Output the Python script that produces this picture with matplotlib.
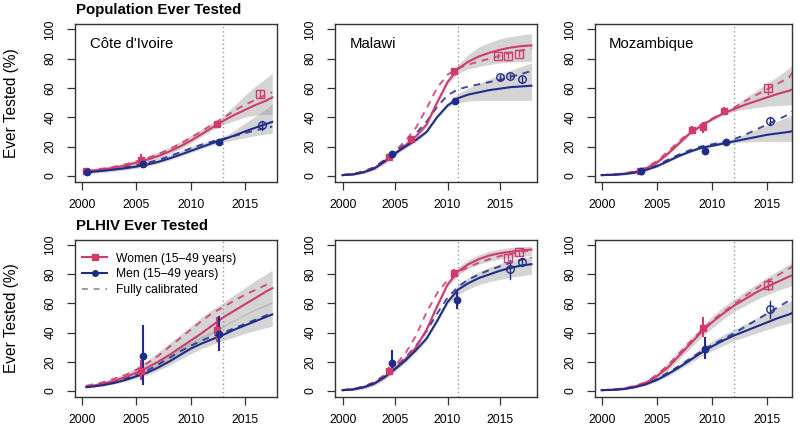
import matplotlib
matplotlib.use('Agg')
import matplotlib.pyplot as plt
from matplotlib.lines import Line2D

plt.rcParams['font.family'] = ['Liberation Sans', 'DejaVu Sans']

# ---------------- data ----------------
YEARS_CI = [2000.4, 2001, 2002, 2003, 2004, 2005, 2006, 2007, 2008, 2009, 2010,
            2011, 2012, 2013, 2014, 2015, 2016, 2017, 2017.5]
YEARS_MW = [2000, 2001, 2002, 2003, 2004, 2005, 2006, 2007, 2008, 2009, 2010,
            2011, 2012, 2013, 2014, 2015, 2016, 2017, 2018]
YEARS_MZ = [2000, 2001, 2002, 2003, 2004, 2005, 2006, 2007, 2008, 2009, 2010,
            2011, 2012, 2013, 2014, 2015, 2016, 2017, 2017.3]

CUTOFF_CI = 2013
CUTOFF_MW = 2011
CUTOFF_MZ = 2012

# Côte d'Ivoire, population
CI_POP_W = [2.8, 3.5, 4.5, 5.5, 7, 9, 11, 13.5, 16.5, 20, 24, 28.5, 33, 37.5, 41.5, 45, 48.5, 51.5, 53.5]
CI_POP_W_FULL = [3.2, 4, 5, 6.2, 7.8, 9.8, 12, 14.8, 18, 21.8, 26, 30.5, 35, 39.5, 44.5, 48.5, 52, 55.5, 57]
CI_POP_W_LO = [1.8, 2.5, 3.4, 4.3, 5.6, 7.4, 9.3, 11.8, 14.8, 18.3, 22.3, 26.8, 31.3, 35, 37.5, 40, 41.5, 42, 42]
CI_POP_W_HI = [4.2, 5, 6.1, 7.4, 9, 11.2, 13.5, 16.3, 19.5, 23.3, 27.5, 32, 36.5, 41, 48, 55, 61.5, 67, 70]
CI_POP_M = [2.2, 2.8, 3.5, 4.3, 5.2, 6.3, 7.7, 9.5, 11.8, 14.3, 17, 19.7, 22.3, 24.8, 27.5, 30.3, 33, 35.5, 36.8]
CI_POP_M_FULL = [2.5, 3.1, 3.9, 4.8, 5.9, 7.2, 8.8, 10.8, 13.3, 16, 18.8, 21.3, 23.5, 25.3, 27.2, 29.2, 31.1, 32.8, 33.6]
CI_POP_M_LO = [1.3, 1.8, 2.4, 3.1, 4, 5.1, 6.5, 8.3, 10.6, 13.1, 15.8, 18.5, 21.1, 23, 24.5, 26, 27.5, 28.5, 29]
CI_POP_M_HI = [3.5, 4.1, 4.9, 5.8, 6.9, 8.2, 9.8, 11.8, 14.3, 17, 19.8, 22.3, 24.5, 26.5, 31, 36, 41, 46, 49]
CI_POP_W_PX = [2000.4, 2005.4, 2012.45]
CI_POP_W_PY = [3.4, 11.0, 35.3]
CI_POP_W_PLO = [2.5, 7.5, 33.5]
CI_POP_W_PHI = [4.3, 14.5, 37.0]
CI_POP_W_OX = [2016.4]
CI_POP_W_OY = [55.7]
CI_POP_W_OLO = [53.0]
CI_POP_W_OHI = [58.5]
CI_POP_M_PX = [2000.5, 2005.6, 2012.6]
CI_POP_M_PY = [2.5, 8.0, 23.2]
CI_POP_M_PLO = [2.0, 7.0, 22.0]
CI_POP_M_PHI = [3.0, 9.0, 24.5]
CI_POP_M_OX = [2016.6]
CI_POP_M_OY = [34.5]
CI_POP_M_OLO = [31.5]
CI_POP_M_OHI = [37.5]

# Malawi, population
MW_POP_W = [0.5, 1, 2.5, 5, 9.5, 15, 21, 27, 35, 50, 64, 73, 78, 81.5, 84, 86, 87.5, 88.5, 89]
MW_POP_W_FULL = [0.6, 1.2, 3, 6, 11, 17, 24, 33, 46, 60, 69, 73.5, 76, 78, 80, 82, 84, 85.5, 87]
MW_POP_W_LO = [0.2, 0.5, 1.7, 4, 8.3, 13.7, 19.7, 25.5, 33.3, 48.3, 62.3, 70, 73, 74.5, 76, 77, 77.5, 78, 78]
MW_POP_W_HI = [0.8, 1.5, 3.3, 6, 10.7, 16.3, 22.3, 28.5, 36.7, 51.7, 65.7, 76, 83, 88, 91, 93.5, 95, 96, 97]
MW_POP_M = [0.5, 1, 2.5, 5, 10, 15.5, 20, 24.5, 30, 40, 48, 53, 55.5, 57, 58.5, 59.5, 60.5, 61, 61.5]
MW_POP_M_FULL = [0.6, 1.2, 3, 5.5, 10.5, 16, 22, 29, 37, 47, 55, 59, 61, 62.5, 64, 65.5, 67.5, 69.5, 71.5]
MW_POP_M_LO = [0.2, 0.5, 1.6, 4, 8.8, 14.3, 18.8, 23.3, 28.8, 38.8, 46.8, 50, 51, 51.5, 51.5, 51.5, 51.5, 51.5, 51.5]
MW_POP_M_HI = [0.8, 1.5, 3.4, 6, 11.2, 16.7, 21.2, 25.7, 31.2, 41.2, 49.2, 56, 60, 63, 66, 69, 72, 74.5, 77]
MW_POP_W_PX = [2004.45, 2006.5, 2010.6]
MW_POP_W_PY = [13.0, 24.8, 71.5]
MW_POP_W_PLO = [11.5, 23.3, 70.0]
MW_POP_W_PHI = [14.5, 26.3, 73.0]
MW_POP_W_OX = [2014.8, 2015.8, 2016.8]
MW_POP_W_OY = [81.8, 81.8, 83.0]
MW_POP_W_OLO = [80.3, 80.3, 81.5]
MW_POP_W_OHI = [83.3, 83.3, 84.5]
MW_POP_M_PX = [2004.7, 2010.75]
MW_POP_M_PY = [14.8, 51.0]
MW_POP_M_PLO = [13.3, 49.5]
MW_POP_M_PHI = [16.3, 52.5]
MW_POP_M_OX = [2015.0, 2016.0, 2017.06]
MW_POP_M_OY = [67.2, 68.0, 65.8]
MW_POP_M_OLO = [65.7, 66.5, 64.3]
MW_POP_M_OHI = [68.7, 69.5, 67.3]

# Mozambique, population
MZ_POP_W = [0.5, 0.8, 1.5, 2.5, 5, 9, 15, 22, 29, 34, 38.5, 42.5, 45.5, 48.5, 51, 53.5, 56, 58, 59]
MZ_POP_W_FULL = [0.5, 0.9, 1.7, 3, 5.5, 10, 16.5, 23.5, 30, 35, 39, 43, 46.5, 51, 55, 59, 63, 67, 70.5]
MZ_POP_W_LO = [0.2, 0.4, 0.8, 1.6, 4, 8, 14, 21, 28, 33, 37.5, 41.5, 44, 45.5, 46.5, 47.5, 48, 48.3, 48.3]
MZ_POP_W_HI = [0.8, 1.2, 2.2, 3.8, 6.5, 11, 17.5, 24.5, 31, 36, 40, 44, 47.5, 53, 58, 63, 68, 73.5, 75.5]
MZ_POP_M = [0.5, 0.7, 1.2, 2.2, 4, 6.5, 10, 13.5, 16.5, 19, 20.5, 22, 23.5, 25, 26.5, 28, 29, 30, 30.5]
MZ_POP_M_FULL = [0.5, 0.8, 1.4, 2.5, 4.5, 7, 11, 14.5, 17.5, 20, 21.5, 23, 25, 28, 31.5, 35, 38.5, 42, 44]
MZ_POP_M_LO = [0.2, 0.3, 0.7, 1.5, 3.2, 5.7, 9.2, 12.7, 15.7, 18.2, 19.7, 21.2, 22.5, 23, 23.3, 23.5, 23.5, 23.5, 23.5]
MZ_POP_M_HI = [0.8, 1.1, 1.8, 3, 5.1, 7.8, 11.8, 15.3, 18.3, 20.8, 22.3, 23.8, 25.5, 28.5, 31.5, 34.5, 37.5, 40.5, 42]
MZ_POP_W_PX = [2003.5, 2008.2, 2009.2, 2011.1]
MZ_POP_W_PY = [3.4, 31.2, 33.0, 44.4]
MZ_POP_W_PLO = [2.8, 29.5, 30.0, 42.5]
MZ_POP_W_PHI = [4.0, 33.0, 36.0, 46.3]
MZ_POP_W_OX = [2015.1]
MZ_POP_W_OY = [59.7]
MZ_POP_W_OLO = [56.0]
MZ_POP_W_OHI = [63.0]
MZ_POP_M_PX = [2003.6, 2009.4, 2011.3]
MZ_POP_M_PY = [3.6, 17.0, 22.8]
MZ_POP_M_PLO = [3.0, 15.0, 21.0]
MZ_POP_M_PHI = [4.3, 19.0, 24.6]
MZ_POP_M_OX = [2015.3]
MZ_POP_M_OY = [37.6]
MZ_POP_M_OLO = [35.0]
MZ_POP_M_OHI = [40.0]

# Côte d'Ivoire, PLHIV
CI_HIV_W = [3, 3.5, 5, 7, 9.5, 12.5, 16, 20, 24.5, 29.5, 34.5, 39.5, 45, 50.5, 55, 59.5, 64, 68.5, 70.5]
CI_HIV_W_FULL = [3.5, 4.5, 6, 8.5, 11, 14.5, 19, 24, 30, 36, 42, 48, 53.5, 57.5, 62, 66, 69.5, 73, 74.5]
CI_HIV_W_LO = [2.5, 3, 4.3, 6, 8, 10.5, 13.5, 17, 21, 25.5, 30, 34.5, 39, 44, 48, 52, 55.5, 58.5, 60]
CI_HIV_W_HI = [4, 5, 6.8, 9.3, 12, 16, 21, 26.5, 32.5, 38.5, 44.5, 50.5, 56, 60.5, 66, 71, 76, 80.5, 83]
CI_HIV_M = [2.5, 3, 4, 5.5, 7.5, 10, 12.5, 16, 20, 24.5, 29, 32.5, 35.5, 38.5, 42, 45, 48, 51, 52.5]
CI_HIV_M_FULL = [3, 3.5, 5, 6.5, 8.5, 11, 14, 18, 22.5, 27, 31, 34.5, 37.5, 40, 43, 46, 49, 52, 53.5]
CI_HIV_M_LO = [2.2, 2.6, 3.5, 4.8, 6.5, 8.7, 11, 14, 17.5, 21.5, 25.5, 29, 32, 34.5, 37, 39.5, 41.5, 43.5, 44.5]
CI_HIV_M_HI = [3.3, 4, 5.6, 7.3, 9.5, 12.3, 15.5, 19.8, 24.5, 29.5, 34, 38, 41.5, 45, 49, 53, 56.5, 60, 61.5]
CI_HIV_W_PX = [2005.4, 2012.4]
CI_HIV_W_PY = [13.6, 42.0]
CI_HIV_W_PLO = [8.0, 34.0]
CI_HIV_W_PHI = [20.5, 50.0]
CI_HIV_W_OX = []
CI_HIV_W_OY = []
CI_HIV_W_OLO = []
CI_HIV_W_OHI = []
CI_HIV_M_PX = [2005.6, 2012.6]
CI_HIV_M_PY = [23.9, 39.0]
CI_HIV_M_PLO = [4.6, 28.4]
CI_HIV_M_PHI = [44.3, 51.0]
CI_HIV_M_OX = []
CI_HIV_M_OY = []
CI_HIV_M_OLO = []
CI_HIV_M_OHI = []

# Malawi, PLHIV
MW_HIV_W = [0.5, 1, 2.5, 5, 9.5, 15.5, 22, 30, 42, 58, 73, 82, 87, 90.5, 93, 94.5, 95.5, 96.5, 97]
MW_HIV_W_FULL = [0.6, 1.2, 3, 6, 11, 17.5, 26, 38, 54, 67, 76, 81.5, 85, 88, 90.5, 92.5, 94, 95.5, 96.5]
MW_HIV_W_LO = [0.2, 0.5, 1.5, 3.8, 8, 14, 20.5, 28.5, 40.5, 56.5, 71.5, 79.5, 84, 87, 89, 90.5, 91.5, 92.5, 93]
MW_HIV_W_HI = [0.8, 1.5, 3.5, 6.2, 11, 17, 23.5, 31.5, 43.5, 59.5, 74.5, 85, 90, 93.5, 96, 97.5, 98.5, 99, 99.5]
MW_HIV_M = [0.5, 1, 2.5, 5, 9.5, 15, 21, 28, 36, 48, 61, 69.5, 74, 77.5, 80, 82.5, 84.5, 86, 87]
MW_HIV_M_FULL = [0.6, 1.2, 3, 5.5, 10, 16, 23, 31, 41, 53, 64, 71.5, 76.5, 80, 83, 85.5, 88, 90, 91.5]
MW_HIV_M_LO = [0.2, 0.5, 1.5, 3.8, 8, 13.5, 19.5, 26.5, 34.5, 46.5, 59.5, 66, 70, 73, 75, 76.5, 78, 79, 80]
MW_HIV_M_HI = [0.8, 1.5, 3.5, 6.2, 11, 16.5, 22.5, 29.5, 37.5, 49.5, 62.5, 73, 78, 82, 85, 87.5, 89.5, 91, 92.5]
MW_HIV_W_PX = [2004.45, 2010.65]
MW_HIV_W_PY = [13.6, 80.7]
MW_HIV_W_PLO = [11.5, 78.5]
MW_HIV_W_PHI = [16.0, 83.0]
MW_HIV_W_OX = [2015.8, 2016.8]
MW_HIV_W_OY = [91.4, 95.4]
MW_HIV_W_OLO = [89.0, 93.5]
MW_HIV_W_OHI = [93.5, 97.0]
MW_HIV_M_PX = [2004.7, 2010.9]
MW_HIV_M_PY = [19.3, 62.5]
MW_HIV_M_PLO = [11.4, 56.8]
MW_HIV_M_PHI = [27.3, 68.2]
MW_HIV_M_OX = [2016.0, 2017.06]
MW_HIV_M_OY = [83.6, 88.6]
MW_HIV_M_OLO = [77.0, 85.5]
MW_HIV_M_OHI = [90.0, 91.5]

# Mozambique, PLHIV
MZ_HIV_W = [0.5, 0.8, 1.5, 3, 5.5, 10, 16, 24, 32, 40, 47, 53, 58.5, 63, 67.5, 71.5, 75, 78.5, 79.5]
MZ_HIV_W_FULL = [0.5, 0.9, 1.8, 3.5, 6, 11, 17.5, 25.5, 33.5, 41, 48, 54, 59.5, 65, 70, 75, 79.5, 84, 85.3]
MZ_HIV_W_LO = [0.3, 0.5, 1.1, 2.4, 4.5, 8.5, 14, 21.5, 29, 36.5, 43, 49, 54.5, 58.5, 62.5, 66, 69, 71.5, 72.5]
MZ_HIV_W_HI = [0.8, 1.2, 2.2, 4, 7, 12.5, 19.5, 27.5, 35.5, 43.5, 51, 57.5, 63, 68, 73, 78, 82.5, 87, 88.5]
MZ_HIV_M = [0.5, 0.7, 1.2, 2.5, 4.5, 7.5, 11.5, 16, 21, 26, 30.5, 34.5, 38, 41, 44, 47, 50, 52.5, 53.5]
MZ_HIV_M_FULL = [0.5, 0.8, 1.4, 2.8, 5, 8, 12.5, 17, 22, 27, 31.5, 35.5, 39.5, 44, 48.5, 53, 57.5, 62, 64.5]
MZ_HIV_M_LO = [0.3, 0.5, 1, 2, 3.7, 6.5, 10, 14.5, 19, 23.5, 27.5, 31, 34.5, 37, 39.5, 42, 44.5, 46.5, 47.5]
MZ_HIV_M_HI = [0.7, 1, 1.6, 3, 5.5, 8.8, 13.3, 18, 23.5, 29, 34, 38.5, 42, 46, 50, 54, 57.5, 61, 62.5]
MZ_HIV_W_PX = [2009.2]
MZ_HIV_W_PY = [43.2]
MZ_HIV_W_PLO = [37.5]
MZ_HIV_W_PHI = [50.0]
MZ_HIV_W_OX = [2015.1]
MZ_HIV_W_OY = [72.7]
MZ_HIV_W_OLO = [69.0]
MZ_HIV_W_OHI = [76.5]
MZ_HIV_M_PX = [2009.4]
MZ_HIV_M_PY = [29.1]
MZ_HIV_M_PLO = [22.8]
MZ_HIV_M_PHI = [36.4]
MZ_HIV_M_OX = [2015.3]
MZ_HIV_M_OY = [56.2]
MZ_HIV_M_OLO = [50.0]
MZ_HIV_M_OHI = [61.8]

COUNTRIES = ["Côte d'Ivoire", "Malawi", "Mozambique"]
ROW_TITLES = ["Population Ever Tested", "PLHIV Ever Tested"]
LEGEND_LABELS = ["Women (15\u201349 years)", "Men (15\u201349 years)", "Fully calibrated"]
X_TICKS = [2000, 2005, 2010, 2015]
Y_TICKS = [0, 20, 40, 60, 80, 100]

# ---------------- style ----------------
W_COL = '#D23A6B'
M_COL = '#1F2D8A'
BAND_COL = '#9A9A9A'
BAND_ALPHA = 0.42

W, H = 800, 429
fig = plt.figure(figsize=(W / 100, H / 100), dpi=100)

col_px = [(75, 277), (335, 537), (595, 792)]
row_px = [(24, 182), (240, 397)]
xlims = [(1999.356, 2017.94), (1999.27, 2018.53), (1999.39, 2017.27)]
ylim = (-4.2, 103.6)


def draw(ax, years, cutoff, ws, wf, wlo, whi, ms, mf, mlo, mhi,
         wpx, wpy, wplo, wphi, wox, woy, wolo, wohi,
         mpx, mpy, mplo, mphi, mox, moy, molo, mohi):
    ax.fill_between(years, wlo, whi, color=BAND_COL, alpha=BAND_ALPHA, lw=0, zorder=1)
    ax.fill_between(years, mlo, mhi, color=BAND_COL, alpha=BAND_ALPHA, lw=0, zorder=1)
    ax.axvline(cutoff, color='#999999', lw=1, ls=(0, (1, 2)), zorder=2)
    ax.plot(years, wf, color=W_COL, lw=1.4, ls=(0, (3.5, 3)), alpha=0.85, zorder=3)
    ax.plot(years, mf, color=M_COL, lw=1.4, ls=(0, (3.5, 3)), alpha=0.85, zorder=3)
    ax.plot(years, ws, color=W_COL, lw=1.5, zorder=4)
    ax.plot(years, ms, color=M_COL, lw=1.5, zorder=4)
    for x, y, lo, hi in zip(wpx, wpy, wplo, wphi):
        ax.plot([x, x], [lo, hi], color=W_COL, lw=1.5, zorder=5)
    for x, y, lo, hi in zip(mpx, mpy, mplo, mphi):
        ax.plot([x, x], [lo, hi], color=M_COL, lw=1.5, zorder=5)
    ax.plot(wpx, wpy, 's', color=W_COL, ms=4.5, zorder=6)
    ax.plot(mpx, mpy, 'o', color=M_COL, ms=4.6, zorder=6)
    for x, y, lo, hi in zip(wox, woy, wolo, wohi):
        ax.plot([x, x], [lo, hi], color=W_COL, lw=1.0, zorder=5)
    for x, y, lo, hi in zip(mox, moy, molo, mohi):
        ax.plot([x, x], [lo, hi], color=M_COL, lw=1.0, zorder=5)
    ax.plot(wox, woy, 's', mfc='none', mec=W_COL, mew=1.0, ms=5.2, zorder=6)
    ax.plot(mox, moy, 'o', mfc='none', mec=M_COL, mew=1.0, ms=5.4, zorder=6)


panels = [
    [(YEARS_CI, CUTOFF_CI, CI_POP_W, CI_POP_W_FULL, CI_POP_W_LO, CI_POP_W_HI,
      CI_POP_M, CI_POP_M_FULL, CI_POP_M_LO, CI_POP_M_HI,
      CI_POP_W_PX, CI_POP_W_PY, CI_POP_W_PLO, CI_POP_W_PHI,
      CI_POP_W_OX, CI_POP_W_OY, CI_POP_W_OLO, CI_POP_W_OHI,
      CI_POP_M_PX, CI_POP_M_PY, CI_POP_M_PLO, CI_POP_M_PHI,
      CI_POP_M_OX, CI_POP_M_OY, CI_POP_M_OLO, CI_POP_M_OHI),
     (YEARS_MW, CUTOFF_MW, MW_POP_W, MW_POP_W_FULL, MW_POP_W_LO, MW_POP_W_HI,
      MW_POP_M, MW_POP_M_FULL, MW_POP_M_LO, MW_POP_M_HI,
      MW_POP_W_PX, MW_POP_W_PY, MW_POP_W_PLO, MW_POP_W_PHI,
      MW_POP_W_OX, MW_POP_W_OY, MW_POP_W_OLO, MW_POP_W_OHI,
      MW_POP_M_PX, MW_POP_M_PY, MW_POP_M_PLO, MW_POP_M_PHI,
      MW_POP_M_OX, MW_POP_M_OY, MW_POP_M_OLO, MW_POP_M_OHI),
     (YEARS_MZ, CUTOFF_MZ, MZ_POP_W, MZ_POP_W_FULL, MZ_POP_W_LO, MZ_POP_W_HI,
      MZ_POP_M, MZ_POP_M_FULL, MZ_POP_M_LO, MZ_POP_M_HI,
      MZ_POP_W_PX, MZ_POP_W_PY, MZ_POP_W_PLO, MZ_POP_W_PHI,
      MZ_POP_W_OX, MZ_POP_W_OY, MZ_POP_W_OLO, MZ_POP_W_OHI,
      MZ_POP_M_PX, MZ_POP_M_PY, MZ_POP_M_PLO, MZ_POP_M_PHI,
      MZ_POP_M_OX, MZ_POP_M_OY, MZ_POP_M_OLO, MZ_POP_M_OHI)],
    [(YEARS_CI, CUTOFF_CI, CI_HIV_W, CI_HIV_W_FULL, CI_HIV_W_LO, CI_HIV_W_HI,
      CI_HIV_M, CI_HIV_M_FULL, CI_HIV_M_LO, CI_HIV_M_HI,
      CI_HIV_W_PX, CI_HIV_W_PY, CI_HIV_W_PLO, CI_HIV_W_PHI,
      CI_HIV_W_OX, CI_HIV_W_OY, CI_HIV_W_OLO, CI_HIV_W_OHI,
      CI_HIV_M_PX, CI_HIV_M_PY, CI_HIV_M_PLO, CI_HIV_M_PHI,
      CI_HIV_M_OX, CI_HIV_M_OY, CI_HIV_M_OLO, CI_HIV_M_OHI),
     (YEARS_MW, CUTOFF_MW, MW_HIV_W, MW_HIV_W_FULL, MW_HIV_W_LO, MW_HIV_W_HI,
      MW_HIV_M, MW_HIV_M_FULL, MW_HIV_M_LO, MW_HIV_M_HI,
      MW_HIV_W_PX, MW_HIV_W_PY, MW_HIV_W_PLO, MW_HIV_W_PHI,
      MW_HIV_W_OX, MW_HIV_W_OY, MW_HIV_W_OLO, MW_HIV_W_OHI,
      MW_HIV_M_PX, MW_HIV_M_PY, MW_HIV_M_PLO, MW_HIV_M_PHI,
      MW_HIV_M_OX, MW_HIV_M_OY, MW_HIV_M_OLO, MW_HIV_M_OHI),
     (YEARS_MZ, CUTOFF_MZ, MZ_HIV_W, MZ_HIV_W_FULL, MZ_HIV_W_LO, MZ_HIV_W_HI,
      MZ_HIV_M, MZ_HIV_M_FULL, MZ_HIV_M_LO, MZ_HIV_M_HI,
      MZ_HIV_W_PX, MZ_HIV_W_PY, MZ_HIV_W_PLO, MZ_HIV_W_PHI,
      MZ_HIV_W_OX, MZ_HIV_W_OY, MZ_HIV_W_OLO, MZ_HIV_W_OHI,
      MZ_HIV_M_PX, MZ_HIV_M_PY, MZ_HIV_M_PLO, MZ_HIV_M_PHI,
      MZ_HIV_M_OX, MZ_HIV_M_OY, MZ_HIV_M_OLO, MZ_HIV_M_OHI)],
]

for r in range(2):
    top, bot = row_px[r]
    for c in range(3):
        l, rr = col_px[c]
        ax = fig.add_axes([l / W, 1 - bot / H, (rr - l) / W, (bot - top) / H])
        draw(ax, *panels[r][c])
        ax.set_xlim(*xlims[c])
        ax.set_ylim(*ylim)
        ax.set_xticks(X_TICKS)
        ax.set_xticklabels([str(t) for t in X_TICKS])
        ax.set_yticks(Y_TICKS)
        ax.set_yticklabels([str(t) for t in Y_TICKS], rotation=90, va='center')
        ax.tick_params(axis='both', direction='out', length=5.5, width=0.9,
                       color='#333333', labelsize=8.8)
        ax.tick_params(axis='x', pad=7)
        ax.tick_params(axis='y', pad=8)
        for s in ax.spines.values():
            s.set_color('#333333')
            s.set_linewidth(1.0)
        if r == 0:
            ax.text(0.072, 0.875, COUNTRIES[c], transform=ax.transAxes,
                    fontsize=10.7, va='center', ha='left')
        if r == 1 and c == 0:
            handles = [Line2D([], [], color=W_COL, lw=1.5, marker='s', ms=4),
                       Line2D([], [], color=M_COL, lw=1.5, marker='o', ms=4),
                       Line2D([], [], color='#999999', lw=1.4, ls=(0, (3, 3)))]
            ax.legend(handles, LEGEND_LABELS, loc='upper left', frameon=False,
                      fontsize=8.7, handlelength=2.1, handletextpad=0.7,
                      labelspacing=0.3, borderaxespad=0.0,
                      bbox_to_anchor=(0.01, 0.95))
    fig.text(12 / W, 1 - (top + bot) / 2 / H, 'Ever Tested (%)', rotation=90,
             fontsize=11.2, va='center', ha='center')
    fig.text(76 / W, 1 - (top - 14) / H, ROW_TITLES[r], fontsize=10.8,
             fontweight='bold', va='center', ha='left')

fig.savefig('out.png', dpi=100)
